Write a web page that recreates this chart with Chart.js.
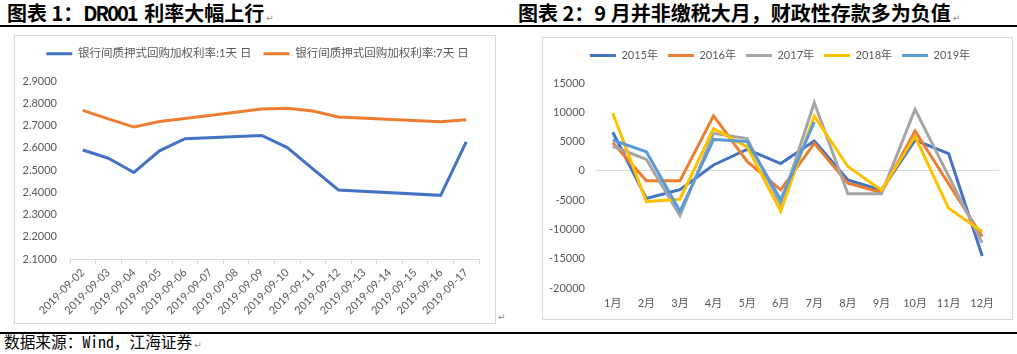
<!DOCTYPE html>
<html>
<head>
<meta charset="utf-8">
<script src="https://cdn.jsdelivr.net/npm/chart.js@4.4.1/dist/chart.umd.min.js"></script>
<style>
  html, body { margin: 0; padding: 0; background: #fff; }
  body { width: 1017px; height: 354px; position: relative; overflow: hidden; font-family: "Noto Sans CJK SC", sans-serif; }
  .title { position: absolute; top: 2px; font-size: 20px; line-height: 22px; font-weight: bold; color: #000; white-space: nowrap; }
  .lat { letter-spacing: -2px; margin-right: 3px; }
  .pm { font-family: "DejaVu Sans", sans-serif; font-size: 9px; font-weight: normal; color: #8a8a8a; margin-left: 2px; }
  .rule { position: absolute; height: 1.5px; background: #000; }
  .box { position: absolute; border: 1px solid #D9D9D9; box-sizing: border-box; }
  .cv { position: absolute; }
  .foot { position: absolute; left: 4px; top: 332px; font-family: "Noto Sans Mono CJK SC", "Noto Sans CJK SC", monospace; font-size: 15.7px; line-height: 20px; color: #000; white-space: nowrap; }
  .pmabs { position: absolute; font-family: "DejaVu Sans", sans-serif; font-size: 9px; color: #8a8a8a; }
</style>
</head>
<body>
<div class="title" style="left:7px;">图表 1：<span class="lat">DR001</span> 利率大幅上行<span class="pm">↵</span></div>
<div class="title" style="left:518px;">图表 2：9 月并非缴税大月，财政性存款多为负值<span class="pm">↵</span></div>
<div class="rule" style="left:0; top:25px; width:1017px;"></div>

<div class="box" style="left:14px; top:35px; width:482px; height:289px;"></div>
<canvas id="c1" class="cv" width="480" height="287" style="left:15px; top:36px; width:480px; height:287px;"></canvas>
<div class="pmabs" style="left:498px; top:312px;">↵</div>

<div class="box" style="left:542px; top:37px; width:471px; height:283px;"></div>
<canvas id="c2" class="cv" width="469" height="281" style="left:543px; top:38px; width:469px; height:281px;"></canvas>

<div class="rule" style="left:0; top:332px; width:1017px;"></div>
<div class="foot">数据来源：Wind，江海证券<span class="pm">↵</span></div>

<script>
// ---------- Chart 1 data ----------
const dates = ['2019-09-02','2019-09-03','2019-09-04','2019-09-05','2019-09-06','2019-09-07','2019-09-08','2019-09-09',
               '2019-09-10','2019-09-11','2019-09-12','2019-09-13','2019-09-14','2019-09-15','2019-09-16','2019-09-17'];
const dr001 = [2.590, 2.553, 2.489, 2.586, 2.641, null, null, 2.655, 2.601, 2.505, 2.410, null, null, null, 2.386, 2.626];
const dr007 = [2.768, 2.730, 2.693, 2.718, 2.731, null, null, 2.774, 2.777, 2.765, 2.738, null, null, null, 2.717, 2.726];
const legend1 = ['银行间质押式回购加权利率:1天 日', '银行间质押式回购加权利率:7天 日'];
const yMin1 = 2.1, yMax1 = 2.9, yStep1 = 0.1;

// ---------- Chart 2 data ----------
const months = ['1月','2月','3月','4月','5月','6月','7月','8月','9月','10月','11月','12月'];
const y2015 = [6600, -4700, -3200, 1000, 3650, 1250, 5100, -1550, -3300, 5250, 2950, -14550];
const y2016 = [4800, -1700, -1700, 9400, 1600, -3250, 4700, -2100, -3700, 6800, -2200, -11200];
const y2017 = [4200, 1950, -7650, 6400, 5500, -5800, 11600, -3900, -3900, 10500, -900, -12300];
const y2018 = [9850, -5250, -4850, 7200, 4100, -6900, 9350, 750, -3300, 5900, -6400, -10350];
const y2019 = [5250, 3250, -6900, 5350, 5000, -4950, 8350, null, null, null, null, null];
const legend2 = ['2015年','2016年','2017年','2018年','2019年'];
const yMin2 = -20000, yMax2 = 15000, yStep2 = 5000;

Chart.defaults.font.family = 'Lato, "Noto Sans CJK SC", sans-serif';
Chart.defaults.font.size = 11;
Chart.defaults.color = '#595959';

const genLabels = chart => Chart.defaults.plugins.legend.labels.generateLabels(chart)
  .map(l => Object.assign(l, { lineWidth: 0 }));

const legendExtra = extra => ({
  id: 'legendExtra',
  beforeInit(chart) {
    const orig = chart.legend.fit;
    chart.legend.fit = function () { orig.call(this); this.height += extra; };
  }
});
const legendShift = dx => ({
  id: 'legendShift',
  afterLayout(chart) { chart.legend.left += dx; chart.legend.right += dx; }
});

const line = (label, data, color, order) => ({
  label, data, borderColor: color, backgroundColor: color, borderWidth: 3,
  pointRadius: 0, pointHoverRadius: 0, tension: 0, spanGaps: true, fill: false, order
});

new Chart(document.getElementById('c1'), {
  type: 'line',
  data: {
    labels: dates,
    datasets: [ line(legend1[0], dr001, '#4472C4', 2), line(legend1[1], dr007, '#ED7D31', 1) ]
  },
  options: {
    responsive: false, animation: false, devicePixelRatio: 1,
    layout: { padding: { top: 0, left: 0, right: 16, bottom: 0 } },
    plugins: {
      legend: { labels: { boxWidth: 26, boxHeight: 3, padding: 12, color: '#595959', font: { size: 11.5 },
        generateLabels: genLabels, sort: (a, b) => a.datasetIndex - b.datasetIndex } },
      tooltip: { enabled: false }
    },
    scales: {
      x: {
        offset: true,
        grid: { display: true, offset: true, drawOnChartArea: false, drawTicks: true, tickLength: 5, color: '#D9D9D9' },
        border: { display: true, color: '#D9D9D9' },
        ticks: { autoSkip: false, minRotation: 45, maxRotation: 45, padding: 2, color: '#595959', font: { size: 11 } },
        afterFit: s => { s.height = 64; }
      },
      y: {
        min: yMin1, max: yMax1,
        grid: { display: false, drawTicks: false },
        border: { display: false },
        ticks: { stepSize: yStep1, padding: 13, color: '#595959', font: { size: 11 }, callback: v => Number(v).toFixed(4) },
        afterFit: s => { s.width = 55; }
      }
    }
  },
  plugins: [legendExtra(11.5), legendShift(10.5)]
});

const colors2 = ['#4472C4', '#ED7D31', '#A5A5A5', '#FFC000', '#5B9BD5'];
const series2 = [y2015, y2016, y2017, y2018, y2019];

new Chart(document.getElementById('c2'), {
  type: 'line',
  data: {
    labels: months,
    datasets: series2.map((d, i) => line(legend2[i], d, colors2[i], 5 - i))
  },
  options: {
    responsive: false, animation: false, devicePixelRatio: 1,
    layout: { padding: { top: 2, left: 0, right: 13, bottom: 0 } },
    plugins: {
      legend: { labels: { boxWidth: 26, boxHeight: 3, padding: 10, color: '#595959', font: { size: 11 },
        generateLabels: genLabels, sort: (a, b) => a.datasetIndex - b.datasetIndex } },
      tooltip: { enabled: false }
    },
    scales: {
      x: {
        offset: true,
        grid: { display: false, drawTicks: false },
        border: { display: false },
        ticks: { autoSkip: false, maxRotation: 0, padding: 9, color: '#595959', font: { size: 11 } },
        afterFit: s => { s.height = 31; }
      },
      y: {
        min: yMin2, max: yMax2,
        grid: { display: true, drawTicks: false, lineWidth: 1,
          color: ctx => (ctx.tick && ctx.tick.value === 0) ? '#D9D9D9' : 'rgba(0,0,0,0)' },
        border: { display: false },
        ticks: { stepSize: yStep2, padding: 11, color: '#595959', font: { size: 11 }, callback: v => String(v) },
        afterFit: s => { s.width = 53; }
      }
    }
  },
  plugins: [legendExtra(12), legendShift(9)]
});
</script>
</body>
</html>
